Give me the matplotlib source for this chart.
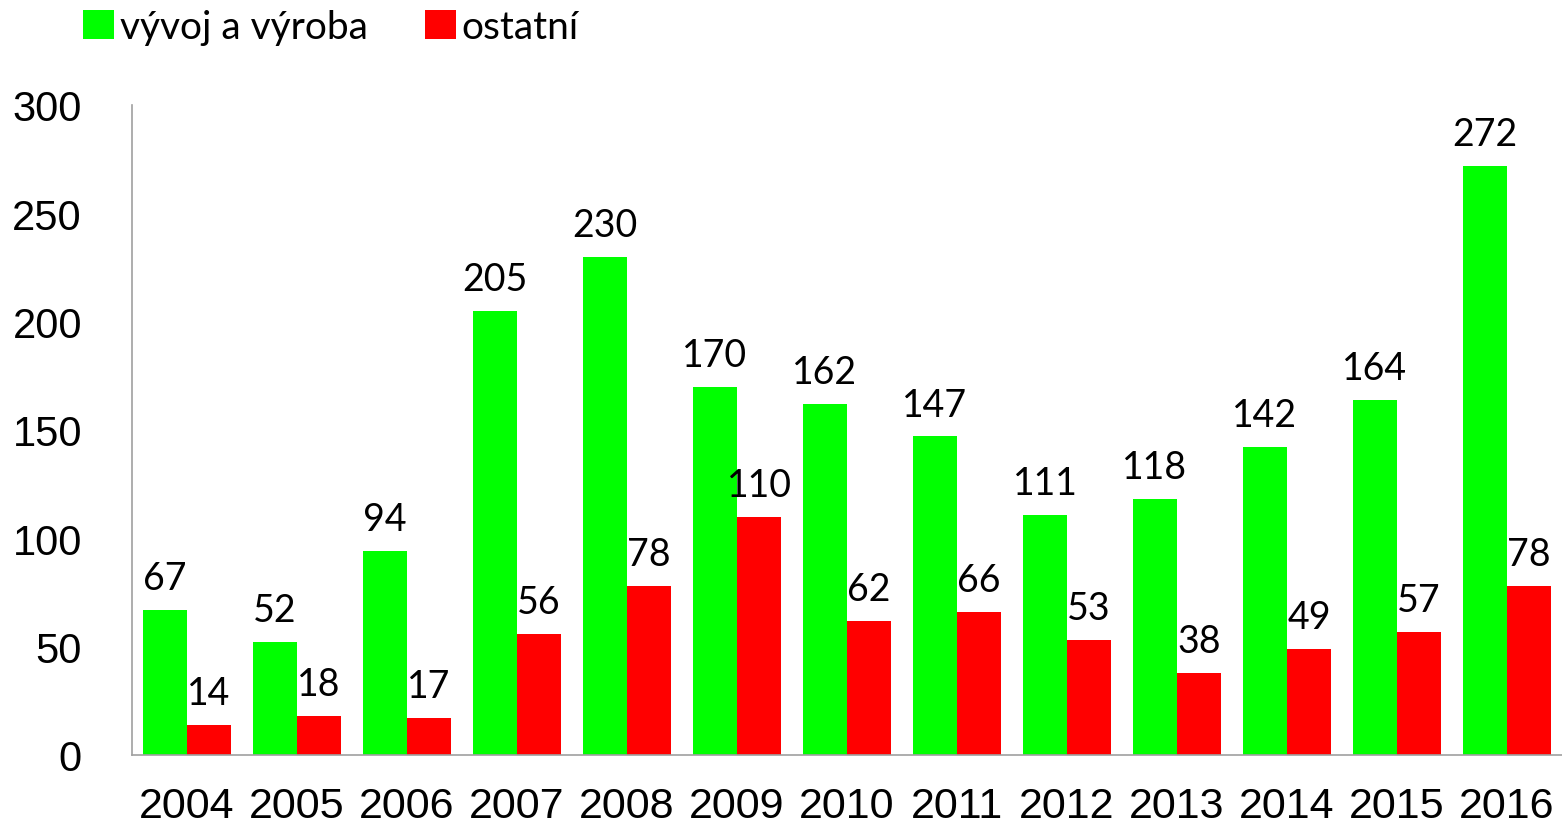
import matplotlib
matplotlib.use("Agg")
import matplotlib.pyplot as plt
import numpy as np

years = ["2004", "2005", "2006", "2007", "2008", "2009", "2010", "2011", "2012", "2013", "2014", "2015", "2016"]
vyvoj = [67, 52, 94, 205, 230, 170, 162, 147, 111, 118, 142, 164, 272]
ostatni = [14, 18, 17, 56, 78, 110, 62, 66, 53, 38, 49, 57, 78]
yticks = [0, 50, 100, 150, 200, 250, 300]

plt.rcParams['font.family'] = ['Liberation Sans', 'DejaVu Sans']

fig = plt.figure(figsize=(15.62, 8.28), dpi=100)
ax = fig.add_axes([132/1562, 72/828, 1430/1562, 650/828])

x = np.arange(len(years))
w = 0.4
b1 = ax.bar(x - w/2, vyvoj, w, color='#00FF00', label='vývoj a výroba')
b2 = ax.bar(x + w/2, ostatni, w, color='#FF0000', label='ostatní')

for rect, v in zip(list(b1) + list(b2), vyvoj + ostatni):
    ax.annotate(str(v), (rect.get_x() + rect.get_width()/2, v), xytext=(0, 10),
                textcoords='offset points', ha='center', va='bottom',
                fontsize=27, family=['Lato', 'DejaVu Sans'])

ax.set_xlim(-0.5, len(years) - 0.5)
ax.set_ylim(0, 300)
ax.set_yticks(yticks)
ax.set_yticklabels([str(t) for t in yticks], fontsize=30)
ax.set_xticks(x)
ax.set_xticklabels(years, fontsize=31)
ax.tick_params(axis='y', length=0, pad=36)
ax.tick_params(axis='x', length=0, pad=22)
for s in ['top', 'right']:
    ax.spines[s].set_visible(False)
for s in ['left', 'bottom']:
    ax.spines[s].set_color('#A0A0A0')
    ax.spines[s].set_linewidth(1.2)

leg = fig.legend(loc='upper left', bbox_to_anchor=(60/1562, 1.016), ncol=2, frameon=False,
                 prop={'family': 'Lato', 'size': 28}, handlelength=0.8, handleheight=0.8,
                 handletextpad=0.15, columnspacing=1.45, borderaxespad=0.2)

fig.savefig('out.png', dpi=100)
